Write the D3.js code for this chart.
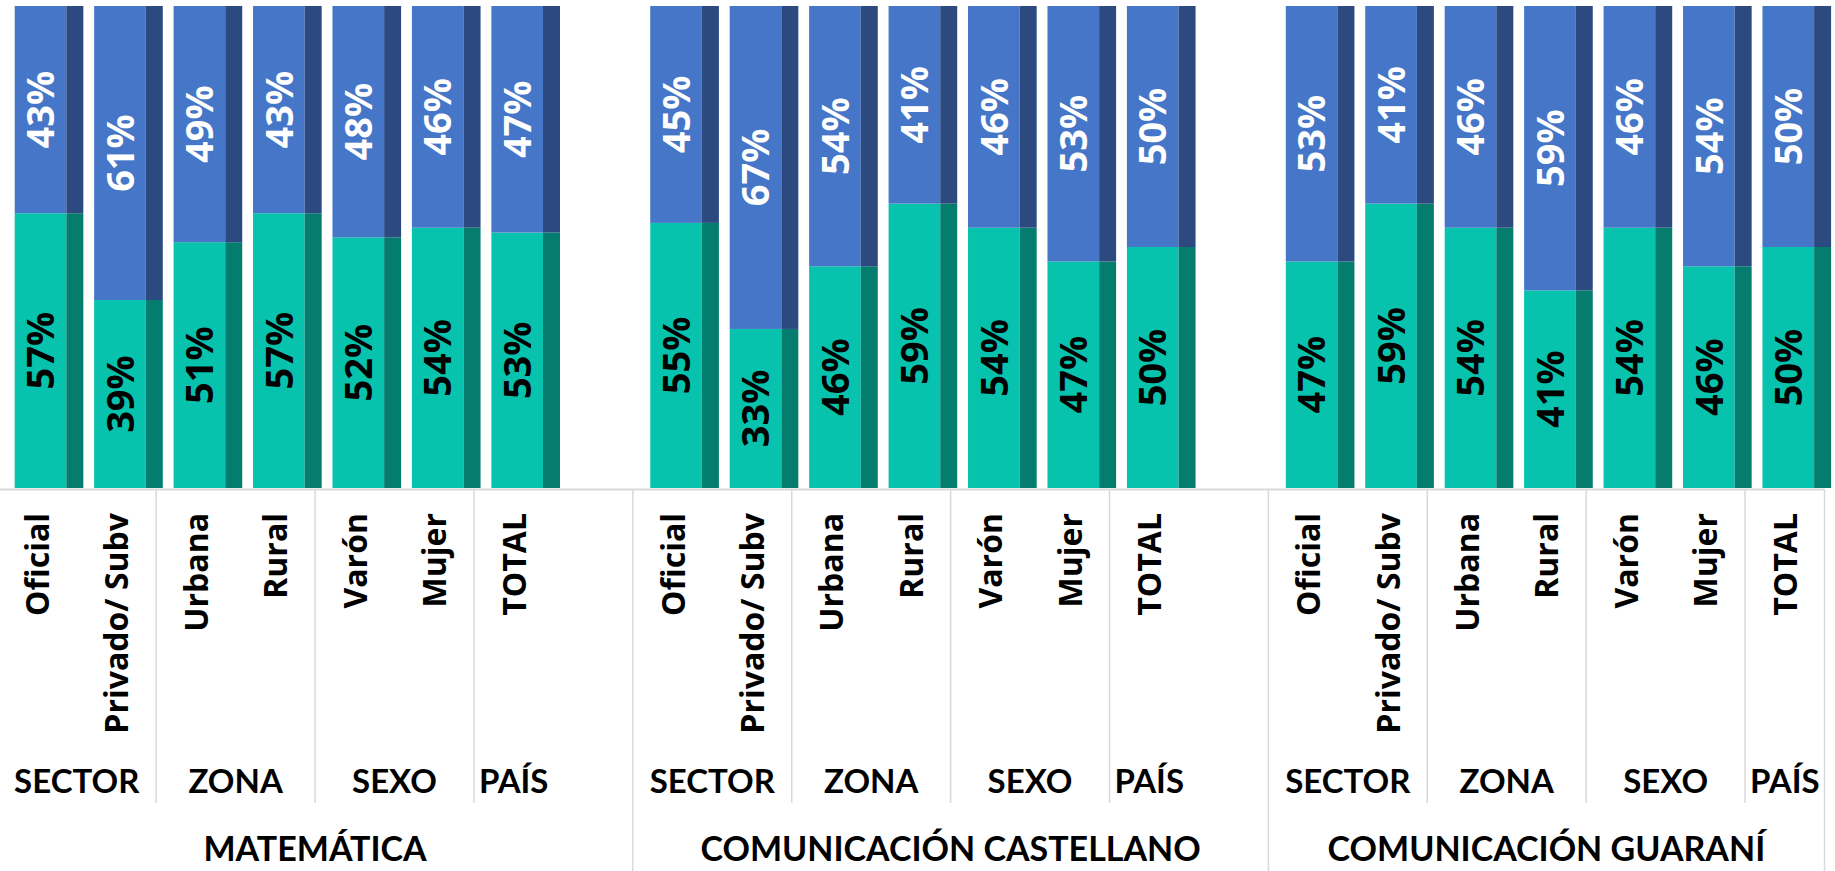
<!DOCTYPE html>
<html>
<head>
<meta charset="utf-8">
<script src="https://cdn.jsdelivr.net/npm/d3@7"></script>
<style>
  html, body { margin: 0; padding: 0; background: #fff; }
  svg { display: block; }
  .pct { font-family: "Open Sans", sans-serif; font-weight: 700; font-size: 38px; }
  .cat { font-family: "Open Sans", sans-serif; font-weight: 700; font-size: 32px; fill: #000; }
  .grp { font-family: Lato, sans-serif; font-weight: 700; font-size: 33px; fill: #000; }
  .subj { font-family: Lato, sans-serif; font-weight: 700; font-size: 34px; fill: #000; }
</style>
</head>
<body>
<svg id="chart"></svg>
<script>
(function () {
  'use strict';

  // Subjects (top level of the category axis)
  const SUBJECTS = ['MATEMÁTICA', 'COMUNICACIÓN CASTELLANO', 'COMUNICACIÓN GUARANÍ'];

  // Categories repeated inside each subject, with their second-level group
  const CATEGORIES = ['Oficial', 'Privado/ Subv', 'Urbana', 'Rural', 'Varón', 'Mujer', 'TOTAL'];
  const CATEGORY_GROUPS = ['SECTOR', 'SECTOR', 'ZONA', 'ZONA', 'SEXO', 'SEXO', 'PAÍS'];

  // Lower (teal) segment, % per subject
  const LOWER = [
    [57, 39, 51, 57, 52, 54, 53],
    [55, 33, 46, 59, 54, 47, 50],
    [47, 59, 54, 41, 54, 46, 50]
  ];

  // Upper (blue) segment, % per subject
  const UPPER = [
    [43, 61, 49, 43, 48, 46, 47],
    [45, 67, 54, 41, 46, 53, 50],
    [53, 41, 46, 59, 46, 54, 50]
  ];

  const W = 1835, H = 871;
  const baseY = 488, topY = 6;
  const depth = 17;          // 3D side strip width
  const shift = 3.5;         // axis grid offset vs. bar slots

  const COLORS = {
    lower: { front: '#07c3ae', side: '#047d6f', text: '#000' },
    upper: { front: '#4676c7', side: '#2c4a80', text: '#fff' }
  };

  const svg = d3.select('#chart').attr('width', W).attr('height', H);

  // Build slot list: 7 categories per subject, one empty slot between subjects
  const slots = [];
  const rows = [];
  SUBJECTS.forEach((subj, si) => {
    CATEGORIES.forEach((cat, ci) => {
      const key = si + '-' + ci;
      slots.push(key);
      rows.push({ key, si, ci, cat, group: CATEGORY_GROUPS[ci], lower: LOWER[si][ci], upper: UPPER[si][ci] });
    });
    if (si < SUBJECTS.length - 1) slots.push(si + '-gap');
  });

  const x = d3.scaleBand()
    .domain(slots)
    .range([0.8, 1828])
    .paddingInner(0.35)
    .paddingOuter(0.175);

  const y = d3.scaleLinear().domain([0, 100]).range([baseY, topY]);

  const stack = d3.stack().keys(['lower', 'upper']);
  const series = stack(rows);

  const half = (x.step() - x.bandwidth()) / 2;
  const boundaryBefore = (key) => x(key) - half - shift;
  const boundaryAfter = (key) => x(key) + x.bandwidth() + half - shift;

  // Bars: front face + darker side strip
  const barsG = svg.append('g');
  series.forEach((s) => {
    const c = COLORS[s.key];
    const g = barsG.append('g');
    g.selectAll('rect.front').data(s).join('rect')
      .attr('class', 'front')
      .attr('x', (d) => x(d.data.key))
      .attr('y', (d) => y(d[1]))
      .attr('width', x.bandwidth())
      .attr('height', (d) => y(d[0]) - y(d[1]))
      .attr('fill', c.front);
    g.selectAll('rect.side').data(s).join('rect')
      .attr('class', 'side')
      .attr('x', (d) => x(d.data.key) + x.bandwidth())
      .attr('y', (d) => y(d[1]))
      .attr('width', depth)
      .attr('height', (d) => y(d[0]) - y(d[1]))
      .attr('fill', c.side);
  });

  // Percentage labels, rotated, centered on the front face
  series.forEach((s) => {
    const c = COLORS[s.key];
    barsG.append('g').selectAll('text').data(s).join('text')
      .attr('class', 'pct')
      .attr('transform', (d) => `translate(${x(d.data.key) + x.bandwidth() / 2},${(y(d[0]) + y(d[1])) / 2}) rotate(-90)`)
      .attr('text-anchor', 'middle')
      .attr('dy', '0.36em')
      .attr('fill', c.text)
      .text((d) => (d[1] - d[0]) + '%');
  });

  // Axis line
  svg.append('line')
    .attr('x1', 0).attr('x2', boundaryAfter(slots[slots.length - 1]))
    .attr('y1', baseY + 1.5).attr('y2', baseY + 1.5)
    .attr('stroke', '#d9d9d9').attr('stroke-width', 2);

  const gridG = svg.append('g').attr('stroke', '#d9d9d9').attr('stroke-width', 1.5);

  // Inner separators between second-level groups
  SUBJECTS.forEach((subj, si) => {
    CATEGORIES.forEach((cat, ci) => {
      if (ci > 0 && CATEGORY_GROUPS[ci] !== CATEGORY_GROUPS[ci - 1]) {
        const bx = boundaryBefore(si + '-' + ci);
        gridG.append('line')
          .attr('x1', bx).attr('x2', bx)
          .attr('y1', baseY + 1).attr('y2', 803);
      }
    });
  });

  // Subject separators (full height), including right edge
  const subjBounds = SUBJECTS.map((subj, si) => boundaryBefore(si + '-0'));
  subjBounds.push(boundaryAfter(slots[slots.length - 1]));
  subjBounds.forEach((bx) => {
    gridG.append('line')
      .attr('x1', bx).attr('x2', bx)
      .attr('y1', baseY + 1).attr('y2', H);
  });

  // Category labels, rotated, aligned at top
  svg.append('g').selectAll('text').data(rows).join('text')
    .attr('class', 'cat')
    .attr('transform', (d) => `translate(${x(d.key) + x.bandwidth() / 2 - 3},513) rotate(-90)`)
    .attr('text-anchor', 'end')
    .attr('dy', '0.36em')
    .text((d) => d.cat);

  // Second-level group labels
  const grpLabels = [];
  SUBJECTS.forEach((subj, si) => {
    const names = Array.from(new Set(CATEGORY_GROUPS));
    names.forEach((name) => {
      const idx = CATEGORY_GROUPS.map((g, i) => (g === name ? i : -1)).filter((i) => i >= 0);
      const left = boundaryBefore(si + '-' + idx[0]);
      const right = boundaryAfter(si + '-' + idx[idx.length - 1]);
      grpLabels.push({ name, cx: (left + right) / 2 });
    });
  });
  svg.append('g').selectAll('text').data(grpLabels).join('text')
    .attr('class', 'grp')
    .attr('x', (d) => d.cx)
    .attr('y', 793)
    .attr('text-anchor', 'middle')
    .text((d) => d.name);

  // Subject labels, centered between subject separators
  svg.append('g').selectAll('text').data(SUBJECTS).join('text')
    .attr('class', 'subj')
    .attr('x', (d, i) => (subjBounds[i] + subjBounds[i + 1]) / 2)
    .attr('y', 861)
    .attr('text-anchor', 'middle')
    .text((d) => d);
})();
</script>
</body>
</html>
